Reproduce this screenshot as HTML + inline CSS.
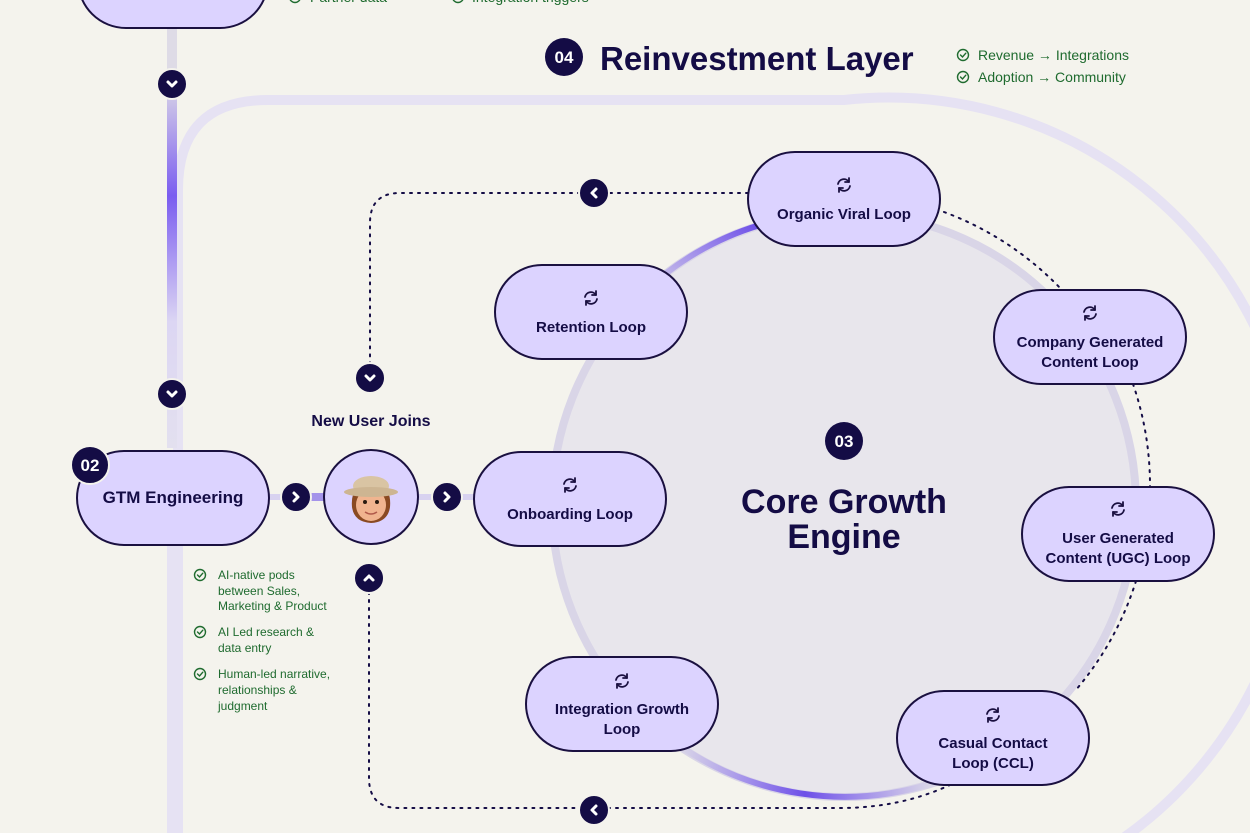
<!DOCTYPE html>
<html><head><meta charset="utf-8"><style>
html,body{margin:0;padding:0;background:#f4f3ed;}
body{width:1250px;height:833px;overflow:hidden;position:relative;font-family:"Liberation Sans",sans-serif;}
svg{position:absolute;left:0;top:0}
</style></head><body>
<svg width="1250" height="833" viewBox="0 0 1250 833" xmlns="http://www.w3.org/2000/svg" font-family="Liberation Sans, sans-serif">
<defs>
<linearGradient id="vg" x1="0" y1="0" x2="0" y2="1">
<stop offset="0" stop-color="#dedbe6"/><stop offset="0.12" stop-color="#dedbe6"/>
<stop offset="0.4" stop-color="#7a5cf0"/><stop offset="0.7" stop-color="#dcd6f3"/><stop offset="1" stop-color="#e3e0ef"/>
</linearGradient>
<linearGradient id="ag1" x1="0" y1="1" x2="1" y2="0">
<stop offset="0" stop-color="#7a5cf0" stop-opacity="0"/><stop offset="1" stop-color="#6d4fe8"/>
</linearGradient>
<linearGradient id="ag2" x1="0" y1="0" x2="1" y2="0">
<stop offset="0" stop-color="#7a5cf0" stop-opacity="0"/><stop offset="0.5" stop-color="#6d4fe8"/><stop offset="1" stop-color="#7a5cf0" stop-opacity="0"/>
</linearGradient>
<g id="chev"><circle r="15" fill="#140c45" stroke="#f4f3ed" stroke-width="2"/><path d="M-4,-2 L0,2 L4,-2" fill="none" stroke="#fff" stroke-width="3" stroke-linecap="round" stroke-linejoin="round"/></g>
<g id="loop" fill="none" stroke="#1a1040" stroke-width="1.8" stroke-linecap="round"><path d="M-6,-1 A6,6 0 0 1 5,-3"/><path d="M6,1 A6,6 0 0 1 -5,3"/><path d="M5,-3 l0,-4 M5,-3 l-4,0"/><path d="M-5,3 l0,4 M-5,3 l4,0"/></g>
<g id="chk" fill="none" stroke="#1f6b2f" stroke-width="1.4"><circle r="5.5"/><path d="M-2.5,0 L-0.5,2 L2.8,-1.8" stroke-linecap="round"/></g>
</defs>

<!-- outer layer -->
<path d="M178,840 V190 Q178,100 268,100 H844 A405 405 0 0 1 933,910" fill="none" stroke="#e6e2f3" stroke-width="10"/>

<!-- vertical line -->
<rect x="167" y="28" width="10" height="420" fill="url(#vg)"/>
<rect x="167" y="545" width="10" height="290" fill="#e6e2f3"/>

<!-- top pill -->
<path d="M78,-40 H268 V-20 A48,48 0 0 1 220,28 H126 A48,48 0 0 1 78,-20 Z" fill="#dcd3ff" stroke="#1a1040" stroke-width="2"/>
<use href="#chk" x="295" y="-3"/><text x="310" y="2" font-size="14" fill="#1f6b2f">Partner data</text>
<use href="#chk" x="458" y="-3"/><text x="472" y="2" font-size="14" fill="#1f6b2f">Integration triggers</text>

<!-- core circle -->
<circle cx="844" cy="505" r="292" fill="#e8e6ec" stroke="#d9d5e7" stroke-width="8"/>
<path d="M640,296 A292 292 0 0 1 760,225" fill="none" stroke="url(#ag1)" stroke-width="6"/>
<path d="M680,746 A292 292 0 0 0 930,784" fill="none" stroke="url(#ag2)" stroke-width="6"/>

<!-- header -->
<circle cx="564" cy="57" r="19" fill="#140c45"/>
<text x="564" y="63" font-size="17" fill="#fff" text-anchor="middle" font-weight="bold">04</text>
<text x="600" y="70" font-size="33" font-weight="bold" fill="#140c45">Reinvestment Layer</text>
<use href="#chk" x="963" y="55"/><text x="978" y="60" font-size="14" fill="#1f6b2f">Revenue → Integrations</text>
<use href="#chk" x="963" y="77"/><text x="978" y="82" font-size="14" fill="#1f6b2f">Adoption → Community</text>

<!-- dotted connectors -->
<g fill="none" stroke="#140c45" stroke-width="2" stroke-dasharray="2 6" stroke-linecap="round">
<path d="M748,193 H610"/>
<path d="M580,193 H400 Q370,193 370,223 V364"/>
<path d="M369,592 V778 Q369,808 399,808 H580"/>
<path d="M608,808 H840 Q900,808 950,785"/>
<path d="M944,212 A312 312 0 0 1 1062,290"/>
<path d="M1133,384 A312 312 0 0 1 1150,487"/>
<path d="M1136,581 A312 312 0 0 1 1075,691"/>
</g>

<!-- connectors GTM -> avatar -> onboarding -->
<rect x="269" y="494" width="205" height="6" fill="#d8d2f0"/>
<rect x="310" y="493" width="14" height="8" fill="#a493ea"/>

<!-- pills -->
<g stroke="#1a1040" stroke-width="2" fill="#dcd3ff">
<rect x="748" y="152" width="192" height="94" rx="47"/>
<rect x="495" y="265" width="192" height="94" rx="47"/>
<rect x="994" y="290" width="192" height="94" rx="47"/>
<rect x="474" y="452" width="192" height="94" rx="47"/>
<rect x="1022" y="487" width="192" height="94" rx="47"/>
<rect x="526" y="657" width="192" height="94" rx="47"/>
<rect x="897" y="691" width="192" height="94" rx="47"/>
<rect x="77" y="451" width="192" height="94" rx="47"/>
<circle cx="371" cy="497" r="47"/>
</g>
<g font-size="15" font-weight="bold" fill="#140c45" text-anchor="middle">
<use href="#loop" x="844" y="185"/><text x="844" y="219">Organic Viral Loop</text>
<use href="#loop" x="591" y="298"/><text x="591" y="332">Retention Loop</text>
<use href="#loop" x="1090" y="313"/><text x="1090" y="347">Company Generated</text><text x="1090" y="367">Content Loop</text>
<use href="#loop" x="570" y="485"/><text x="570" y="519">Onboarding Loop</text>
<use href="#loop" x="1118" y="509"/><text x="1118" y="543">User Generated</text><text x="1118" y="563">Content (UGC) Loop</text>
<use href="#loop" x="622" y="681"/><text x="622" y="714">Integration Growth</text><text x="622" y="734">Loop</text>
<use href="#loop" x="993" y="715"/><text x="993" y="748">Casual Contact</text><text x="993" y="768">Loop (CCL)</text>
<text x="173" y="503" font-size="17">GTM Engineering</text>
<text x="371" y="426" font-size="16" font-weight="normal" style="font-weight:600">New User Joins</text>
</g>
<circle cx="90" cy="465" r="19" fill="#140c45" stroke="#f4f3ed" stroke-width="2"/>
<text x="90" y="471" font-size="17" fill="#fff" text-anchor="middle" font-weight="bold">02</text>

<!-- avatar -->
<g>
<path d="M352,507 Q350,484 371,482 Q392,484 390,507 Q388,522 371,523 Q354,522 352,507Z" fill="#8a4a22"/>
<ellipse cx="371" cy="505" rx="15" ry="16" fill="#f0b48f"/>
<ellipse cx="371" cy="486" rx="18" ry="10" fill="#d9c4a3"/>
<ellipse cx="371" cy="492" rx="27" ry="5" fill="#cdb592"/>
<circle cx="365" cy="502" r="2" fill="#2a1a10"/><circle cx="377" cy="502" r="2" fill="#2a1a10"/>
<path d="M365,512 Q371,516 377,512" fill="none" stroke="#b05a4a" stroke-width="1.5"/>
</g>

<!-- core label -->
<circle cx="844" cy="441" r="19" fill="#140c45"/>
<text x="844" y="447" font-size="17" fill="#fff" text-anchor="middle" font-weight="bold">03</text>
<text x="844" y="513" font-size="34" font-weight="bold" fill="#140c45" text-anchor="middle">Core Growth</text>
<text x="844" y="548" font-size="34" font-weight="bold" fill="#140c45" text-anchor="middle">Engine</text>

<!-- chevrons -->
<use href="#chev" transform="translate(172,84)"/>
<use href="#chev" transform="translate(172,394)"/>
<use href="#chev" transform="translate(370,378)"/>
<use href="#chev" transform="translate(369,578) rotate(180)"/>
<use href="#chev" transform="translate(296,497) rotate(-90)"/>
<use href="#chev" transform="translate(447,497) rotate(-90)"/>
<use href="#chev" transform="translate(594,193) rotate(90)"/>
<use href="#chev" transform="translate(594,810) rotate(90)"/>

<!-- left list -->
<g font-size="12" fill="#1f6b2f">
<use href="#chk" x="200" y="575"/>
<text x="218" y="579">AI-native pods</text><text x="218" y="595">between Sales,</text><text x="218" y="610">Marketing &amp; Product</text>
<use href="#chk" x="200" y="632"/>
<text x="218" y="636">AI Led research &amp;</text><text x="218" y="652">data entry</text>
<use href="#chk" x="200" y="674"/>
<text x="218" y="678">Human-led narrative,</text><text x="218" y="694">relationships &amp;</text><text x="218" y="710">judgment</text>
</g>
</svg>
</body></html>
